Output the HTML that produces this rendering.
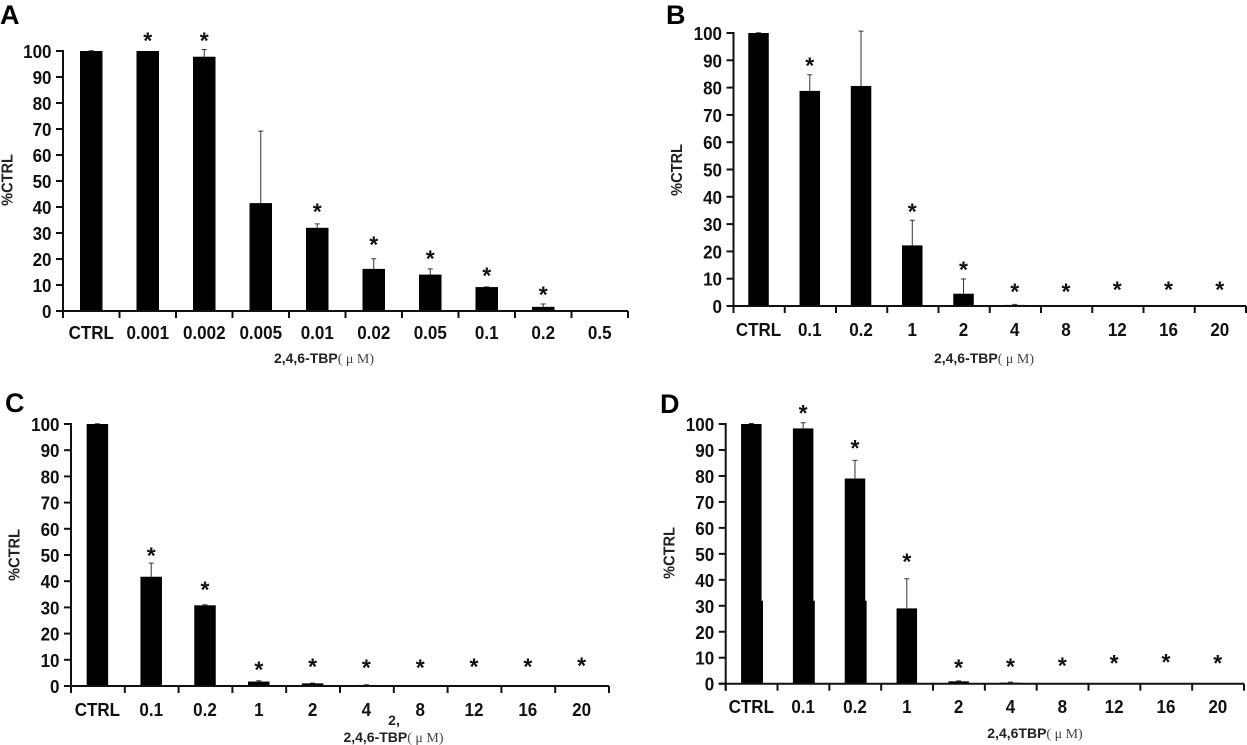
<!DOCTYPE html>
<html>
<head>
<meta charset="utf-8">
<title>2,4,6-TBP dose response panels</title>
<style>
html,body{margin:0;padding:0;background:#fff;width:1247px;height:745px;overflow:hidden}
svg{display:block;font-family:"Liberation Sans","Noto Sans CJK SC",sans-serif;filter:blur(0.35px)}
</style>
</head>
<body>
<svg id="figure" width="1247" height="745" viewBox="0 0 1247 745" xmlns="http://www.w3.org/2000/svg"></svg>
<script>
const yTicks = [0,10,20,30,40,50,60,70,80,90,100];

const catsA = ["CTRL","0.001","0.002","0.005","0.01","0.02","0.05","0.1","0.2","0.5"];
const valsA = [100,100,97.8,41.5,32,16.2,14,9.2,1.6,0];
const errA  = [100.1,100,100.6,69.2,33.5,20.1,16.2,9.3,2.7,0];
const starA = [null,105,105,null,39.2,26.5,21.2,14.6,7.3,null];

const catsB = ["CTRL","0.1","0.2","1","2","4","8","12","16","20"];
const valsB = [100,78.8,80.6,22.2,4.5,0.4,0,0.2,0.2,0.2];
const errB  = [100.1,84.7,100.7,31.4,9.9,0.6,0,0.2,0.2,0.2];
const starB = [null,89,null,35.5,14.3,6.2,6.2,7,7,7];

const catsC = ["CTRL","0.1","0.2","1","2","4","8","12","16","20"];
const valsC = [100,41.7,30.8,1.7,1,0.4,0,0,0,0];
const errC  = [100.1,46.9,31,2,1.1,0.5,0,0,0,0];
const starC = [null,50.8,37.8,7.3,8.4,8,8,8.4,8.4,8.8];

const catsD = ["CTRL","0.1","0.2","1","2","4","8","12","16","20"];
const valsD = [100,98.3,79,29,0.9,0.4,0,0,0,0];
const errD  = [100.2,100.5,86,40.4,1.1,0.6,0,0,0,0];
const starD = [null,105.1,91.6,48,7.2,7.6,8,8.8,9.2,8.8];

const NS = "http://www.w3.org/2000/svg";
const fig = document.getElementById("figure");

function mk(parent, tag, attrs, text) {
  const el = document.createElementNS(NS, tag);
  for (const k in attrs) el.setAttribute(k, attrs[k]);
  if (text !== undefined) el.textContent = text;
  parent.appendChild(el);
  return el;
}

function drawPanel(id, cats, vals, errs, stars, g) {
  const panel = mk(fig, "g", {});
  
  

  const yPos = v => g.y0 - (g.y0 - g.y100) * v / 100;
  const xStep = (g.x1 - g.x0) / cats.length;
  const xPos = i => g.x0 + xStep * (i + 0.5) + g.barShift;

  const letter = mk(panel, "text", {x: g.lx, y: g.ly, "font-size": 27, "font-weight": "bold", fill: "#000"}, id);
  
  

  cats.forEach((c, i) => {
    const x = xPos(i);
    if (errs[i] > vals[i]) {
      const whisker = mk(panel, "path", {
        d: "M" + x + " " + yPos(vals[i]) + "V" + yPos(errs[i]) + "M" + (x - 2.5) + " " + yPos(errs[i]) + "H" + (x + 2.5),
        stroke: "#333", "stroke-width": 1, fill: "none"
      });
      
      
    }
    const bar = mk(panel, "rect", {
      x: x - g.barW / 2, y: yPos(vals[i]), width: g.barW,
      height: Math.max(g.y0 - yPos(vals[i]), 0), fill: "#000"
    });
    
    

    if (g.seamY && yPos(vals[i]) < g.seamY) {
      const seam = mk(panel, "rect", {
        x: x + g.barW / 2 - 1, y: g.seamY, width: 2.4, height: g.y0 - g.seamY, fill: "#000"
      });
      
      
    }

    if (stars[i] !== null) {
      const star = mk(panel, "text", {
        x: x, y: yPos(stars[i]) + 10.4, "font-size": 23, "font-weight": "bold",
        "text-anchor": "middle", fill: "#111"
      }, "*");
      
      
    }

    const label = mk(panel, "text", {
      transform: "translate(" + x + " " + g.xLabelY + ") scale(0.92 1)",
      "font-size": 18.5, "font-weight": "bold",
      "text-anchor": "middle", fill: "#111"
    }, c);
    
    
  });

  const yAxis = mk(panel, "line", {x1: g.x0, x2: g.x0, y1: g.y100 - 1, y2: g.y0 + 7, stroke: "#111", "stroke-width": 2});
  
  
  const xAxis = mk(panel, "line", {x1: g.x0 - 7, x2: g.x1, y1: g.y0, y2: g.y0, stroke: "#111", "stroke-width": 2});
  
  

  for (let i = 0; i <= cats.length; i++) {
    const tx = g.x0 + xStep * i;
    const tick = mk(panel, "line", {x1: tx, x2: tx, y1: g.y0, y2: g.y0 + 7, stroke: "#111", "stroke-width": 2});
    
    
  }

  yTicks.forEach(v => {
    const ty = yPos(v);
    const tick = mk(panel, "line", {x1: g.x0 - 7, x2: g.x0, y1: ty, y2: ty, stroke: "#111", "stroke-width": 2});
    
    
    const label = mk(panel, "text", {
      transform: "translate(" + (g.x0 - 11.5) + " " + (ty + 7) + ") scale(0.92 1)",
      "font-size": 18.5, "font-weight": "bold",
      "text-anchor": "end", fill: "#111"
    }, String(v));
    
    
  });

  const yTitle = mk(panel, "text", {
    transform: "translate(" + g.ytx + " " + g.yty + ") rotate(-90) scale(0.91 1)",
    "font-size": 16, "font-weight": "bold", "text-anchor": "middle", fill: "#222"
  }, "%CTRL");
  
  

  const xTitle = mk(panel, "text", {
    x: g.xtx, y: g.xty, "font-size": 14, "font-weight": "bold", "text-anchor": "middle", fill: "#222"
  }, g.xTitle);
  
  
  mk(xTitle, "tspan", {"font-family": "Liberation Serif", "font-weight": "normal", "font-size": 14, fill: "#444"}, "( μ M)");
}

drawPanel("A", catsA, valsA, errA, starA, {
  x0: 63, x1: 628, y0: 311, y100: 51, barW: 22.5, barShift: 0,
  lx: 0, ly: 24, xLabelY: 339, ytx: 12.5, yty: 180, xtx: 324, xty: 363, xTitle: "2,4,6-TBP"
});
drawPanel("B", catsB, valsB, errB, starB, {
  x0: 733.5, x1: 1246, y0: 306, y100: 33, barW: 20.5, barShift: -0.6,
  lx: 666, ly: 24, xLabelY: 336, ytx: 682, yty: 170, xtx: 984, xty: 363, xTitle: "2,4,6-TBP"
});
drawPanel("C", catsC, valsC, errC, starC, {
  x0: 71, x1: 609, y0: 686, y100: 424, barW: 21.5, barShift: -0.5,
  lx: 5, ly: 412, xLabelY: 716, ytx: 19.4, yty: 555, xtx: 393.5, xty: 742, xTitle: "2,4,6-TBP"
});
drawPanel("D", catsD, valsD, errD, starD, {
  x0: 725.7, x1: 1244, y0: 683.7, y100: 424, barW: 20.5, barShift: -0.3, seamY: 600.7,
  lx: 660, ly: 413, xLabelY: 713, ytx: 674.5, yty: 553, xtx: 1035, xty: 738, xTitle: "2,4,6TBP"
});

const stray = mk(fig, "text", {x: 394, y: 725, "font-size": 14, "font-weight": "bold", "text-anchor": "middle", fill: "#222"}, "2,");


</script>
</body>
</html>
